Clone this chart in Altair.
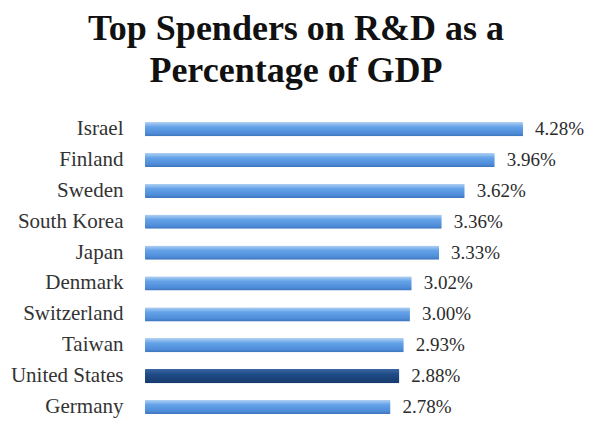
import altair as alt
import pandas as pd

countries = ["Israel", "Finland", "Sweden", "South Korea", "Japan", "Denmark",
             "Switzerland", "Taiwan", "United States", "Germany"]
values = [4.28, 3.96, 3.62, 3.36, 3.33, 3.02, 3.00, 2.93, 2.88, 2.78]
highlight = ["United States"]

df = pd.DataFrame({"country": countries, "value": values})
df["hl"] = df["country"].isin(highlight)

SERIF = "Liberation Serif"

light = alt.Gradient(
    gradient="linear", x1=0, x2=0, y1=0, y2=1,
    stops=[alt.GradientStop(color="#b3d2f3", offset=0),
           alt.GradientStop(color="#64a2e8", offset=0.35),
           alt.GradientStop(color="#4e8cd9", offset=0.8),
           alt.GradientStop(color="#3e74ba", offset=1)])
dark = alt.Gradient(
    gradient="linear", x1=0, x2=0, y1=0, y2=1,
    stops=[alt.GradientStop(color="#3a67a3", offset=0),
           alt.GradientStop(color="#1e4a86", offset=0.4),
           alt.GradientStop(color="#173a6c", offset=1)])

y = alt.Y("country:N", sort=countries, title=None,
          scale=alt.Scale(paddingInner=0.54, paddingOuter=0.194),
          axis=alt.Axis(domain=False, ticks=False, grid=False, labelFont=SERIF, labelFontSize=21,
                        labelColor="#333333", labelPadding=22))
x = alt.X("value:Q", title=None, scale=alt.Scale(domain=[0, 4.28], nice=False, zero=True),
          axis=None)

base = alt.Chart(df).encode(y=y, x=x)

bars_light = base.transform_filter("!datum.hl").mark_bar(fill=light, cornerRadius=1)
bars_dark = base.transform_filter("datum.hl").mark_bar(fill=dark, cornerRadius=1)
labels = base.transform_calculate(
    label="format(datum.value, '.2f') + '%'"
).mark_text(align="left", dx=12, font=SERIF, fontSize=19, color="#2b2b2b").encode(text="label:N")

chart = alt.layer(bars_light, bars_dark, labels).properties(
    width=378, height=304,
    background="white",
    autosize=alt.AutoSizeParams(type="none"),
    padding={"left": 137, "top": 108, "right": 61, "bottom": 0},
    title=alt.TitleParams(
        text=["Top Spenders on R&D as a", "Percentage of GDP"],
        font=SERIF, fontSize=36, fontWeight="bold", color="#111111",
        anchor="middle", dx=-38, offset=26, lineHeight=42),
).configure_view(strokeWidth=0, strokeOpacity=0)

chart.save("out.html", embed_options={"renderer": "svg", "actions": False})
